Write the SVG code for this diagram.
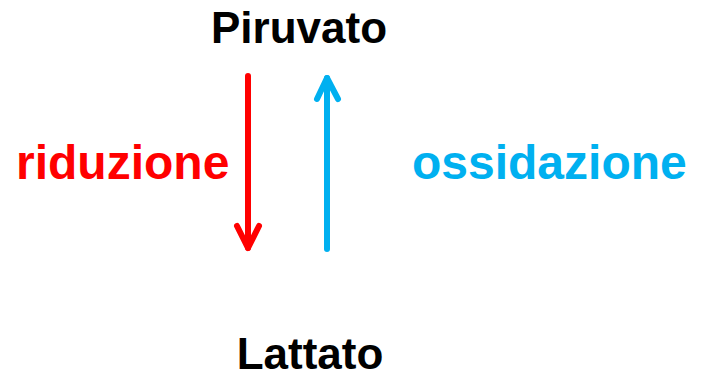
<svg xmlns="http://www.w3.org/2000/svg" width="703" height="375" viewBox="0 0 703 375">
  <style>
    .t { font-family: "Liberation Sans", Arial, sans-serif; font-weight: bold; }
    .name { font-size: 44px; fill: #000; }
    .lbl { font-size: 48px; }
    .arr { fill: none; stroke-width: 6; stroke-linecap: round; stroke-linejoin: round; }
  </style>
  <rect width="703" height="375" fill="#fff"/>
  <g id="piruvato"><text class="t name" x="299" y="43" text-anchor="middle">Piruvato</text></g>
  <g id="lattato"><text class="t name" x="310" y="369" text-anchor="middle">Lattato</text></g>
  <g id="riduzione"><text class="t lbl" x="16" y="179" fill="#FF0000">riduzione</text></g>
  <g id="ossidazione"><text class="t lbl" x="412" y="179" fill="#00B0F0">ossidazione</text></g>
  <g id="connectors">
    <g stroke="#FF0000" class="arr">
      <line x1="248" y1="76" x2="248" y2="248"/>
      <polyline points="237,226 248,248 259,226"/>
    </g>
    <g stroke="#00B0F0" class="arr">
      <line x1="327" y1="249" x2="327" y2="78"/>
      <polyline points="317,99 327,78 338,99"/>
    </g>
  </g>
</svg>
